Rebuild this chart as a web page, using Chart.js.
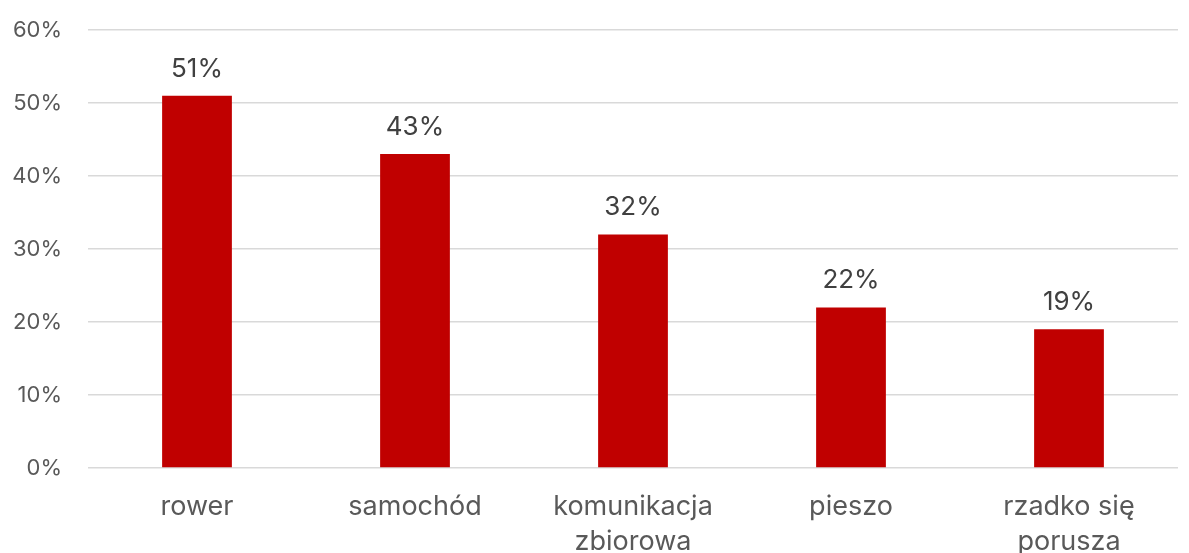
<!DOCTYPE html>
<html>
<head>
<meta charset="utf-8">
<script src="https://cdn.jsdelivr.net/npm/chart.js@4/dist/chart.umd.min.js"></script>
<style>
  html, body { margin: 0; padding: 0; background: #fff; }
  #wrap { width: 1189px; height: 553px; }
</style>
</head>
<body>
<div id="wrap"><canvas id="chart" width="1189" height="553"></canvas></div>
<script>
// --- data ---
const categories = [['rower'], ['samochód'], ['komunikacja', 'zbiorowa'], ['pieszo'], ['rzadko się', 'porusza']];
const shares = [51, 43, 32, 22, 19];
const yTicks = [0, 10, 20, 30, 40, 50, 60];

const FONT = 'Inter, "Liberation Sans", sans-serif';

// value labels above bars
const barLabels = {
  id: 'barLabels',
  afterDatasetsDraw(chart) {
    const ctx = chart.ctx;
    const meta = chart.getDatasetMeta(0);
    ctx.save();
    ctx.font = '26px ' + FONT;
    ctx.fillStyle = '#404040';
    ctx.textAlign = 'center';
    ctx.textBaseline = 'alphabetic';
    meta.data.forEach((bar, i) => {
      ctx.fillText(shares[i] + '%', bar.x, bar.y - 19);
    });
    ctx.restore();
  }
};

new Chart(document.getElementById('chart'), {
  type: 'bar',
  data: {
    labels: categories,
    datasets: [{
      data: shares,
      backgroundColor: '#C00000',
      categoryPercentage: 1,
      barPercentage: 0.32
    }]
  },
  options: {
    responsive: false,
    animation: false,
    layout: { padding: { top: 30, right: 11, left: 0, bottom: 0 } },
    plugins: { legend: { display: false }, tooltip: { enabled: false } },
    scales: {
      x: {
        grid: { display: false },
        border: { display: false },
        ticks: { color: '#595959', font: { family: FONT, size: 27, lineHeight: 1.3 }, padding: 13, maxRotation: 0 },
        afterFit: s => { s.height = 85; }
      },
      y: {
        min: 0, max: 60,
        afterBuildTicks: s => { s.ticks = yTicks.map(v => ({ value: v })); },
        grid: { color: '#d9d9d9', lineWidth: 1.5, drawTicks: false },
        border: { display: false },
        ticks: { color: '#595959', font: { family: FONT, size: 22 }, padding: 26, callback: v => v + '%' },
        afterFit: s => { s.width = 88; s.paddingTop = 0; s.paddingBottom = 0; }
      }
    }
  },
  plugins: [barLabels]
});
</script>
</body>
</html>
